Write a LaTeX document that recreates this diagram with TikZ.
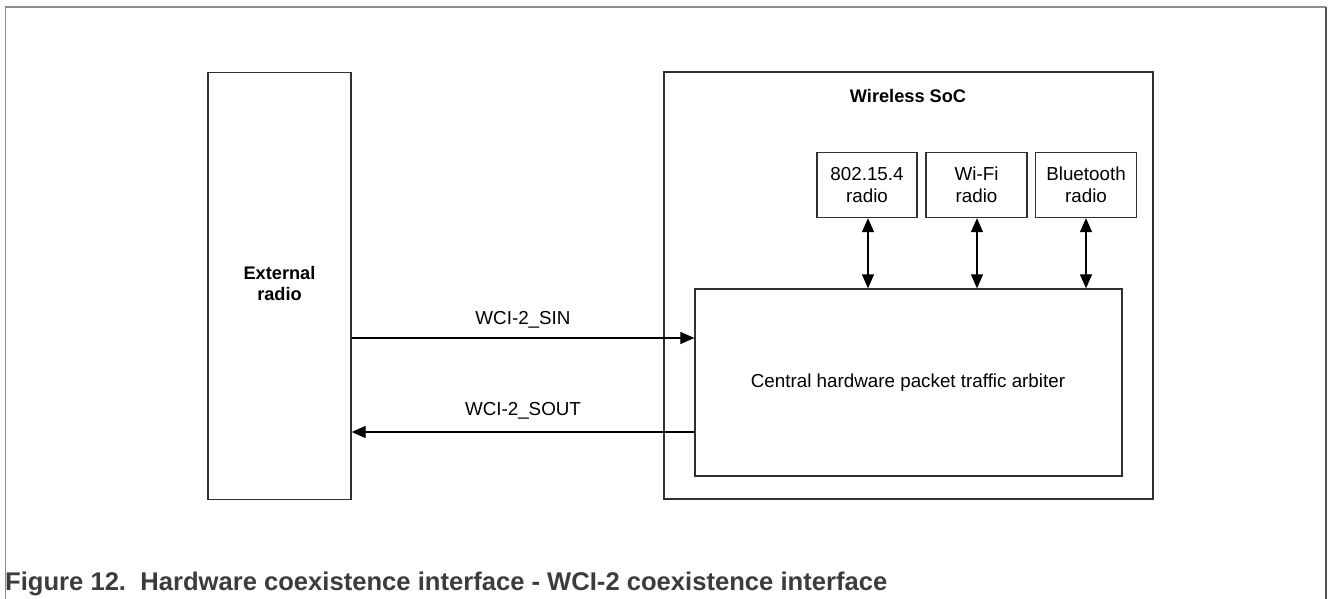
\documentclass[tikz,border=0pt]{standalone}
\usepackage{fontspec}
\setmainfont{Liberation Sans}
\usetikzlibrary{arrows.meta}
\definecolor{framegray}{HTML}{8C8C8C}
\definecolor{captiongray}{HTML}{3C3C3C}
\definecolor{linegray}{HTML}{303030}
\begin{document}
\begin{tikzpicture}[x=1pt,y=-1pt,
  blk/.style={draw=linegray,line width=1.3pt,inner sep=0pt},
  lbl/.style={font=\fontsize{18.8}{22}\selectfont,align=center,inner sep=0pt},
  sig/.style={draw=black,line width=1.2pt,-{Triangle[length=14pt,width=12pt]}},
  bisig/.style={draw=black,line width=1.2pt,{Triangle[length=14pt,width=12pt]}-{Triangle[length=14pt,width=12pt]}}]
\useasboundingbox (0,0) rectangle (1328,599);
% outer frame
\draw[framegray,line width=1.2pt] (5.5,599) -- (5.5,7);
\draw[framegray,line width=2pt] (5,7) -- (1326,7);
\draw[framegray!60!black,line width=1.2pt] (1326,7) -- (1326,599);
% boxes
\node[blk,minimum width=143pt,minimum height=427pt] (ext) at (279.5,286) {};
\node[lbl,font=\fontsize{18.2}{21}\selectfont\bfseries] (extl) at (279.5,283) {External\\radio};
\node[blk,minimum width=489pt,minimum height=427pt] (soc) at (908.5,285.5) {};
\node[lbl,font=\fontsize{18.2}{21}\selectfont\bfseries] (socl) at (908,96) {Wireless SoC};
\node[blk,minimum width=100pt,minimum height=65pt,lbl] (r1) at (867,185) {802.15.4\\radio};
\node[blk,minimum width=101pt,minimum height=65pt,lbl] (r2) at (976.5,185) {Wi-Fi\\radio};
\node[blk,minimum width=101pt,minimum height=65pt,lbl] (r3) at (1086,185) {Bluetooth\\radio};
\node[blk,minimum width=427pt,minimum height=187pt] (arb) at (908.5,382.5) {};
\node[lbl] (arbl) at (908,383) {Central hardware packet traffic arbiter};
% vertical links
\draw[bisig] (r1.south -| 868,0) -- (arb.north -| 868,0);
\draw[bisig] (r2.south -| 977,0) -- (arb.north -| 977,0);
\draw[bisig] (r3.south -| 1086,0) -- (arb.north -| 1086,0);
% horizontal links
\draw[sig] (ext.east |- 0,338) -- node[lbl,above=9pt] {WCI-2\_SIN} (arb.west |- 0,338);
\draw[sig] (arb.west |- 0,432) -- node[lbl,above=12pt] {WCI-2\_SOUT} (ext.east |- 0,432);
% caption
\node[anchor=base west,inner sep=0pt,text=captiongray,font=\fontsize{25.6}{29}\selectfont\bfseries] (cap) at (5,590) {Figure 12.\ \ Hardware coexistence interface - WCI-2 coexistence interface};
\end{tikzpicture}
\end{document}
